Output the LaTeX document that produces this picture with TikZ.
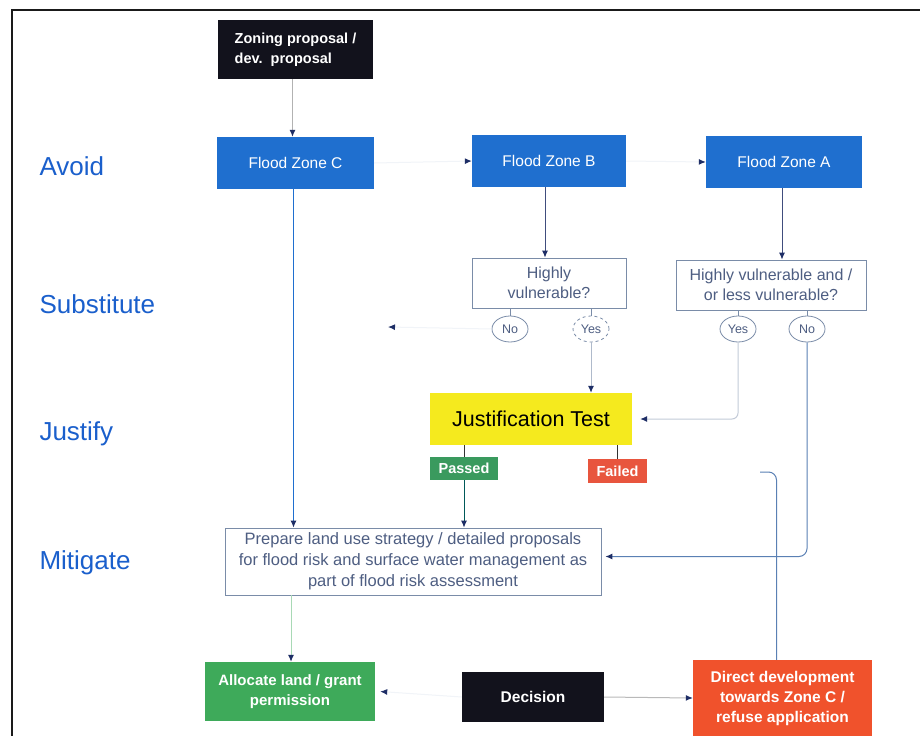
\documentclass[tikz,border=0pt]{standalone}
\usepackage{fontspec}
\setmainfont{Liberation Sans}
\usetikzlibrary{arrows.meta,shapes.geometric}
\definecolor{zoneblue}{HTML}{1F6FCF}
\definecolor{lblblue}{HTML}{1A5FCC}
\definecolor{boxline}{HTML}{7A8CA8}
\definecolor{boxtext}{HTML}{4E5E82}
\definecolor{darkbox}{HTML}{12121C}
\definecolor{jyellow}{HTML}{F5EA1E}
\definecolor{pgreen}{HTML}{3A9A5E}
\definecolor{agreen}{HTML}{3EAA5A}
\definecolor{fred}{HTML}{E8553E}
\definecolor{dred}{HTML}{F0522C}
\definecolor{tipblue}{HTML}{1E2E66}
\definecolor{faint}{HTML}{F1F4F8}
\definecolor{lineblue}{HTML}{5A80B4}
\definecolor{framec}{HTML}{1A1A1A}
\tikzset{
  tip/.style={-{Latex[length=7pt,width=6pt,color=tipblue]}},
  filled/.style={draw=none,inner sep=0pt,align=center,text=white},
  zonebox/.style={filled,fill=zoneblue,minimum width=156pt,minimum height=52pt,font=\fontsize{15.5}{18}\selectfont},
  qbox/.style={draw=boxline,line width=0.8pt,fill=white,inner sep=0pt,align=center,text=boxtext,font=\fontsize{16}{20}\selectfont},
  oval/.style={ellipse,draw=boxline,line width=0.8pt,minimum width=36pt,minimum height=26pt,inner sep=0pt,text=boxtext,font=\fontsize{12.5}{14}\selectfont},
  lvl/.style={anchor=base west,text=lblblue,font=\fontsize{26}{30}\selectfont},
  conn/.style={line width=1pt},
}
\begin{document}
\begin{tikzpicture}[x=1pt,y=-1pt]
\useasboundingbox[fill=white] (0,0) rectangle (920,736);
% frame
\draw[framec,line width=2pt] (920,10) -- (12,10) -- (12,736);
% level labels
\node[lvl] (lavoid) at (36,175) {Avoid};
\node[lvl] (lsub) at (36,313) {Substitute};
\node[lvl] (ljust) at (36,440) {Justify};
\node[lvl] (lmit) at (36,569) {Mitigate};
% nodes
\node[filled,fill=darkbox,minimum width=155pt,minimum height=59pt,align=left,font=\bfseries\fontsize{14.5}{20}\selectfont] (zoning) at (295.5,49.5) {Zoning proposal /\\dev.\ \ proposal};
\node[zonebox,minimum width=157pt] (fzc) at (295.5,163) {Flood Zone C};
\node[zonebox,minimum width=154pt] (fzb) at (549,161) {Flood Zone B};
\node[zonebox] (fza) at (784,162) {Flood Zone A};
\node[qbox,minimum width=154pt,minimum height=50pt] (hvb) at (549,283) {Highly\\vulnerable?};
\node[qbox,minimum width=190pt,minimum height=50pt] (hva) at (771,285) {Highly vulnerable and /\\or less vulnerable?};
\node[oval] (nob) at (510,329) {No};
\node[oval,dashed] (yesb) at (591,329) {Yes};
\node[oval] (yesa) at (738,329) {Yes};
\node[oval] (noa) at (807,329) {No};
\node[filled,fill=jyellow,text=black,minimum width=202pt,minimum height=52pt,font=\fontsize{21.5}{24}\selectfont] (jt) at (531,419) {Justification Test};
\node[filled,fill=pgreen,minimum width=68pt,minimum height=23pt,font=\bfseries\fontsize{14.5}{16}\selectfont] (passed) at (464,468.5) {Passed};
\node[filled,fill=fred,minimum width=59pt,minimum height=24pt,font=\bfseries\fontsize{14.5}{16}\selectfont] (failed) at (617.5,471) {Failed};
\node[qbox,minimum width=376pt,minimum height=67pt,font=\fontsize{16.5}{21}\selectfont] (prep) at (413,561.5) {Prepare land use strategy / detailed proposals\\for flood risk and surface water management as\\part of flood risk assessment};
\node[filled,fill=agreen,minimum width=170pt,minimum height=59pt,font=\bfseries\fontsize{15}{20}\selectfont] (alloc) at (290,691.5) {Allocate land / grant\\permission};
\node[filled,fill=darkbox,minimum width=142pt,minimum height=50pt,font=\bfseries\fontsize{15.5}{18}\selectfont] (dec) at (533,697) {Decision};
\node[filled,fill=dred,minimum width=179pt,minimum height=76pt,font=\bfseries\fontsize{15.5}{20}\selectfont] (direct) at (782.5,698) {Direct development\\towards Zone C /\\refuse application};
% free ends
\coordinate (subarrow) at (388,327);
\coordinate (failend) at (760,472);
% connectors
\draw[conn,tip,color=gray!60] ([xshift=-3pt]zoning.south) -- ([xshift=-3pt]zoning.south |- fzc.north);
\draw[conn,tip,color=zoneblue] ([xshift=-2pt]fzc.south) -- ([xshift=-2pt]fzc.south |- prep.north);
\draw[conn,tip,color=faint] (fzc.east) -- (fzb.west);
\draw[conn,tip,color=faint] (fzb.east) -- (fza.west);
\draw[conn,tip,color=tipblue!85] ([xshift=-4pt]fzb.south) -- ([xshift=-4pt]fzb.south |- hvb.north);
\draw[conn,tip,color=tipblue!85] ([xshift=-2pt]fza.south) -- ([xshift=-2pt]fza.south |- hva.north);
\draw[conn,color=boxline] (hvb.south -| nob) -- (nob.north);
\draw[conn,color=boxline] (hvb.south -| yesb) -- (yesb.north);
\draw[conn,color=boxline] (hva.south -| yesa) -- (yesa.north);
\draw[conn,color=boxline] (hva.south -| noa) -- (noa.north);
\draw[conn,tip,color=faint] (nob.west) -- (subarrow);
\draw[conn,tip,color=boxline!60] (yesb.south) -- (yesb.south |- jt.north);
\draw[conn,tip,color=boxline!45,rounded corners=6pt] (yesa.south) |- ([xshift=8pt]jt.east);
\draw[conn,tip,color=lineblue,rounded corners=8pt] (noa.south) |- ([yshift=5pt,xshift=4pt]prep.east);
\draw[conn,color=black!80] (jt.south -| passed) -- (passed.north);
\draw[conn,color=black!80] (jt.south -| failed) -- (failed.north);
\draw[conn,tip,color=teal!70!black] (passed.south) -- (passed.south |- prep.north);
\draw[conn,tip,color=agreen!45] ([xshift=-122pt]prep.south) -- ([xshift=-122pt]prep.south |- alloc.north);
\draw[conn,tip,color=gray!55] (dec.east) -- (direct.west);
\draw[conn,tip,color=faint] (dec.west) -- ([xshift=5pt]alloc.east);
\draw[conn,color=lineblue,rounded corners=8pt] (failend) -| ([xshift=-6pt]direct.north);
\end{tikzpicture}
\end{document}
